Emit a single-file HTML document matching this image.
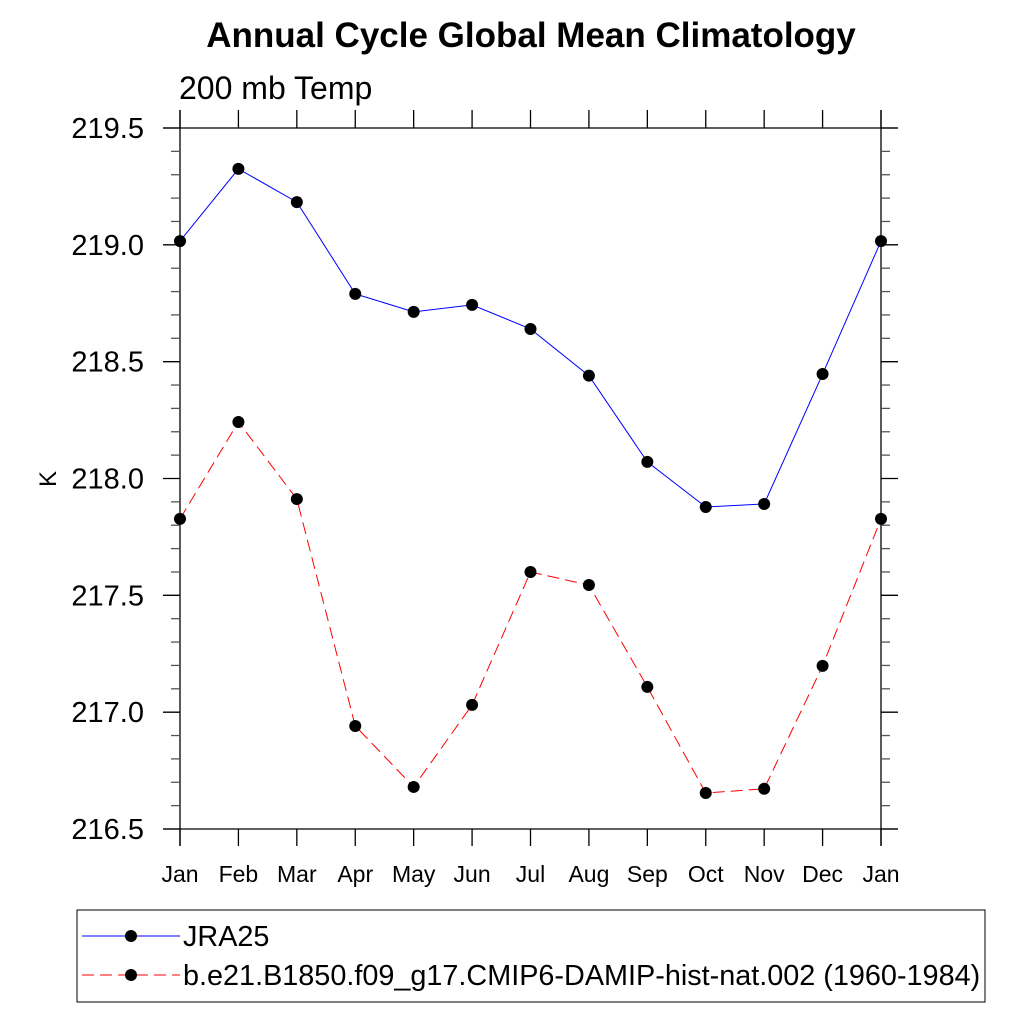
<!DOCTYPE html>
<html><head><meta charset="utf-8"><style>
body{margin:0;background:#fff}
svg text{font-family:"Liberation Sans",sans-serif;fill:#000}
</style></head><body>
<svg id="c" width="1024" height="1024" xmlns="http://www.w3.org/2000/svg">
<text x="531" y="47" font-size="35" font-weight="bold" text-anchor="middle">Annual Cycle Global Mean Climatology</text>
<text x="179" y="99" font-size="32">200 mb Temp</text>
<text transform="translate(56,479) rotate(-90)" font-size="24" text-anchor="middle">K</text>
<g id="axes" stroke="#000" stroke-width="1.3"></g>
<g id="series"></g>
<rect x="77" y="910" width="908" height="92" fill="none" stroke="#000" stroke-width="1"/>
<g>
<line x1="82" y1="936" x2="180" y2="936" stroke="#00f" stroke-width="1"/>
<circle cx="131" cy="936" r="6" fill="#000"/>
<text x="183" y="946" font-size="28.8">JRA25</text></g>
<g>
<line x1="82" y1="975" x2="180" y2="975" stroke="#f00" stroke-width="1" stroke-dasharray="12,6"/>
<circle cx="131" cy="975" r="6" fill="#000"/>
<text x="183" y="985" font-size="28.8">b.e21.B1850.f09_g17.CMIP6-DAMIP-hist-nat.002 (1960-1984)</text></g>
</svg>
<script>
const months=["Jan","Feb","Mar","Apr","May","Jun","Jul","Aug","Sep","Oct","Nov","Dec","Jan"];
const jra=[219.016,219.325,219.183,218.79,218.713,218.743,218.64,218.44,218.071,217.878,217.891,218.447,219.016];
const model=[217.827,218.242,217.912,216.941,216.68,217.031,217.6,217.544,217.108,216.654,216.672,217.198,217.827];
const yTicks=[216.5,217.0,217.5,218.0,218.5,219.0,219.5];
const NS="http://www.w3.org/2000/svg";
const L=180,R=881,T=128,B=829,ymin=216.5,ymax=219.5;
const xs=i=>L+(R-L)*i/(months.length-1);
const ys=v=>B-(v-ymin)/(ymax-ymin)*(B-T);
function mk(tag,attrs,parent){const e=document.createElementNS(NS,tag);for(const k in attrs)e.setAttribute(k,attrs[k]);parent.appendChild(e);return e;}
const ax=document.getElementById('axes');
let e;
e=mk('line',{x1:L,y1:110,x2:L,y2:846},ax);
e=mk('line',{x1:R,y1:110,x2:R,y2:846},ax);
e=mk('line',{x1:163,y1:T,x2:898,y2:T},ax);
e=mk('line',{x1:163,y1:B,x2:898,y2:B},ax);
const svg=document.getElementById('c');
yTicks.forEach(v=>{const y=ys(v);
 mk('line',{x1:163,y1:y,x2:L,y2:y},ax);mk('line',{x1:R,y1:y,x2:898,y2:y},ax);
 const t=mk('text',{x:144,y:y+10,'font-size':29,'text-anchor':'end'},svg);t.textContent=v.toFixed(1);
 
});
for(let v=ymin;v<ymax-1e-6;v+=0.1){ if(Math.abs((v-ymin)/0.5-Math.round((v-ymin)/0.5))<1e-6)continue;const y=ys(v);
 mk('line',{x1:171,y1:y,x2:L,y2:y,stroke:'#555'},ax);mk('line',{x1:R,y1:y,x2:890,y2:y,stroke:'#555'},ax);}
months.forEach((m,i)=>{const x=xs(i);
 mk('line',{x1:x,y1:110,x2:x,y2:T},ax);mk('line',{x1:x,y1:B,x2:x,y2:846},ax);
 const t=mk('text',{x:x,y:882,'font-size':23,'text-anchor':'middle'},svg);t.textContent=m;
 
});
const sg=document.getElementById('series');
function draw(arr,color,dash,name){
 const p=mk('polyline',{points:arr.map((v,i)=>xs(i)+','+ys(v)).join(' '),fill:'none',stroke:color,'stroke-width':1,'stroke-dasharray':dash},sg);
 
 arr.forEach((v,i)=>{const c=mk('circle',{cx:xs(i),cy:ys(v),r:6,fill:'#000'},sg);
  });
}
draw(jra,'#00f','none','jra25');
draw(model,'#f00','12,6','model');
</script>
</body></html>
